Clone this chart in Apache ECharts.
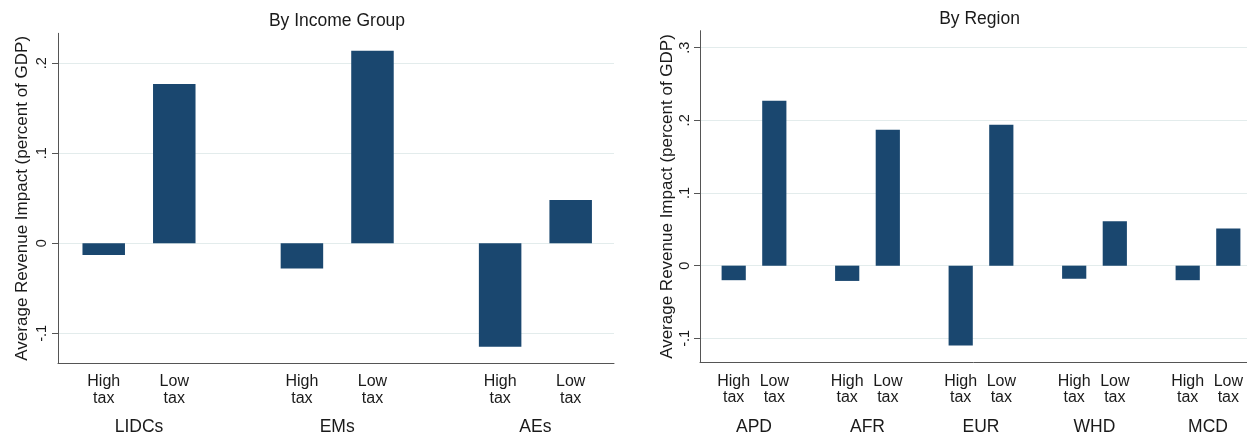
<!DOCTYPE html>
<html>
<head>
<meta charset="utf-8">
<script src="https://cdn.jsdelivr.net/npm/echarts@6/dist/echarts.min.js"></script>
<style>
  html, body { margin: 0; padding: 0; background: #fff; }
  #chart { width: 1247px; height: 439px; }
</style>
</head>
<body>
<div id="chart"></div>
<script>
// Average revenue impact (percent of GDP), by income group
const incomeGroups = ['LIDCs', 'EMs', 'AEs'];
const incomeHighTax = [-0.013, -0.028, -0.115];
const incomeLowTax = [0.177, 0.214, 0.048];
const incomeTicks = [-0.1, 0, 0.1, 0.2];

// Average revenue impact (percent of GDP), by region
const regionGroups = ['APD', 'AFR', 'EUR', 'WHD', 'MCD'];
const regionHighTax = [-0.020, -0.021, -0.110, -0.018, -0.020];
const regionLowTax = [0.227, 0.187, 0.194, 0.061, 0.051];
const regionTicks = [-0.1, 0, 0.1, 0.2, 0.3];

// Bar labels shown under each bar pair
const subLabels = ['High tax', 'Low tax'];
const yTitle = 'Average Revenue Impact (percent of GDP)';
const panelTitles = ['By Income Group', 'By Region'];

const FONT = '"Liberation Sans", Arial, sans-serif';
const TEXT = '#1a1a1a';
const BAR = '#1a476f';
const AXIS = '#555555';
const GRIDLINE = '#e3ecec';

function tickText(v) {
  const s = String(Math.round(v * 10) / 10);
  return s.replace(/^(-?)0\./, '$1.');
}

// Two-line sub labels per bar, then the group name beneath
function groupLabel(name) {
  const parts = subLabels.map(s => s.split(' '));
  const top = parts.map(p => '{sub|' + p[0] + '}').join('');
  const bottom = parts.map(p => '{sub|' + p[1] + '}').join('');
  return top + '\n' + bottom + '\n{grp|' + name + '}';
}

function panel(cfg) {
  const pitch = cfg.barWidth * (1 + cfg.gap);
  const gi = cfg.gridStart;
  return {
    grids: [
      Object.assign({ outerBoundsMode: 'none', containLabel: false }, cfg.axisGrid),
      Object.assign({ outerBoundsMode: 'none', containLabel: false }, cfg.barGrid)
    ],
    xAxes: [
      {
        gridIndex: gi, type: 'value', min: 0, max: 1, position: 'bottom',
        axisLine: { show: true, onZero: false, lineStyle: { color: AXIS, width: 1 } },
        axisTick: { show: false }, axisLabel: { show: false }, splitLine: { show: false }
      },
      {
        gridIndex: gi + 1, type: 'category', data: cfg.groups, position: 'bottom',
        axisLine: { show: false, onZero: false }, axisTick: { show: false }, splitLine: { show: false },
        axisLabel: {
          interval: 0, margin: cfg.labelMargin, color: TEXT, fontFamily: FONT,
          formatter: groupLabel,
          rich: {
            sub: { width: pitch, align: 'center', fontSize: 16, lineHeight: 16.5, color: TEXT, fontFamily: FONT },
            grp: { align: 'center', fontSize: 17.5, lineHeight: 41, color: TEXT, fontFamily: FONT }
          }
        }
      }
    ],
    yAxes: [
      {
        gridIndex: gi, type: 'value', min: cfg.min, max: cfg.max,
        axisLine: { show: true, onZero: false, lineStyle: { color: AXIS, width: 1 } },
        axisTick: { show: true, length: 6, customValues: cfg.ticks, lineStyle: { color: AXIS, width: 1 } },
        axisLabel: {
          customValues: cfg.ticks, rotate: 90, margin: cfg.tickMargin, formatter: tickText,
          fontSize: 14.5, color: TEXT, fontFamily: FONT, showMinLabel: true, showMaxLabel: true
        },
        splitLine: { show: true, lineStyle: { color: GRIDLINE, width: 1.2 } },
        name: yTitle, nameLocation: 'middle', nameGap: cfg.nameGap,
        nameTextStyle: { fontSize: 17, color: TEXT, fontFamily: FONT }
      },
      {
        gridIndex: gi + 1, type: 'value', min: cfg.min, max: cfg.max, show: false,
        splitLine: { show: false }
      }
    ],
    series: [cfg.high, cfg.low].map((vals, k) => ({
      type: 'bar', name: subLabels[k], xAxisIndex: gi + 1, yAxisIndex: gi + 1,
      data: vals, barWidth: cfg.barWidth, barGap: (cfg.gap * 100) + '%',
      itemStyle: { color: BAR }, emphasis: { disabled: true }, animation: false
    }))
  };
}

const left = panel({
  gridStart: 0, groups: incomeGroups, high: incomeHighTax, low: incomeLowTax, ticks: incomeTicks,
  min: -0.1333, max: 0.2333, barWidth: 42.5, gap: 0.66,
  axisGrid: { left: 58, top: 33.3, width: 556, height: 330 },
  barGrid: { left: 39.9, top: 33.3, width: 594.6, height: 330 },
  labelMargin: 10.5, tickMargin: 8.8, nameGap: 27
});

const right = panel({
  gridStart: 2, groups: regionGroups, high: regionHighTax, low: regionLowTax, ticks: regionTicks,
  min: -0.133, max: 0.3234, barWidth: 24.2, gap: 0.678,
  axisGrid: { left: 700, top: 30.7, width: 547, height: 331.6 },
  barGrid: { left: 697.25, top: 30.7, width: 567.5, height: 331.6 },
  labelMargin: 11, tickMargin: 7.8, nameGap: 24
});

const chart = echarts.init(document.getElementById('chart'), null, { renderer: 'canvas' });
chart.setOption({
  animation: false,
  backgroundColor: '#ffffff',
  title: [
    { text: panelTitles[0], left: 337, top: 12, textAlign: 'center', padding: 0,
      textStyle: { fontSize: 17.5, fontWeight: 'normal', color: TEXT, fontFamily: FONT } },
    { text: panelTitles[1], left: 979.5, top: 10.3, textAlign: 'center', padding: 0,
      textStyle: { fontSize: 17.5, fontWeight: 'normal', color: TEXT, fontFamily: FONT } }
  ],
  grid: left.grids.concat(right.grids),
  xAxis: left.xAxes.concat(right.xAxes),
  yAxis: left.yAxes.concat(right.yAxes),
  series: left.series.concat(right.series)
});
</script>
</body>
</html>
